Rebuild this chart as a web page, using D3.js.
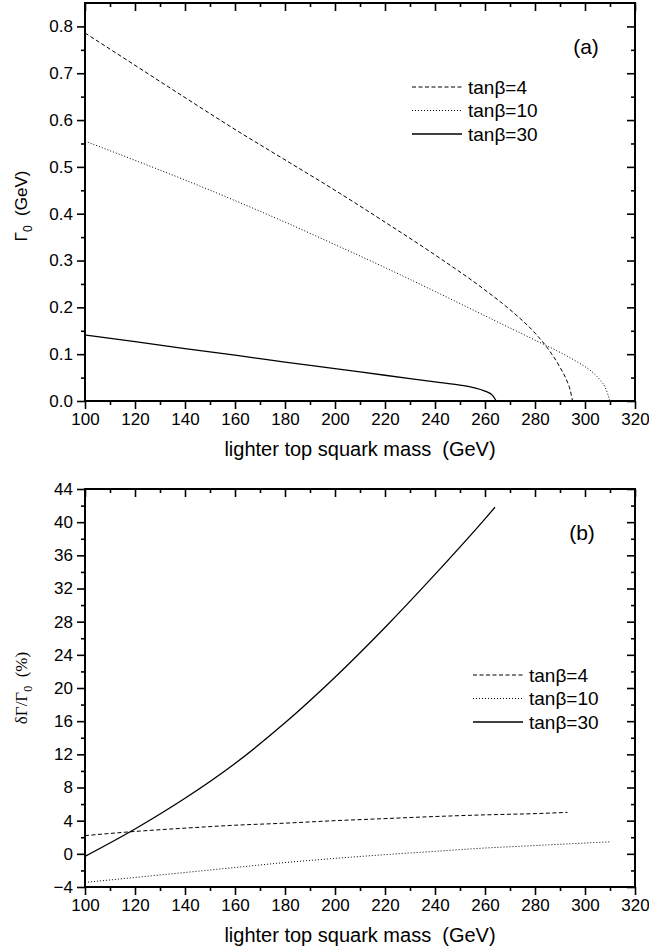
<!DOCTYPE html>
<html>
<head>
<meta charset="utf-8">
<script src="https://cdn.jsdelivr.net/npm/d3@7"></script>
<style>
  html, body { margin: 0; padding: 0; background: #fff; }
  svg { display: block; }
  text { font-family: "Liberation Sans", Arial, sans-serif; fill: #000; white-space: pre; }
  .axis text { font-size: 17px; }
  .axis path, .axis line { stroke: #000; }
</style>
</head>
<body>
<svg id="chart"></svg>
<script>
// ── DATA ─────────────────────────────────────────────────────────────
const massTicks = [100, 120, 140, 160, 180, 200, 220, 240, 260, 280, 300, 320];
const gammaTicks = [0.0, 0.1, 0.2, 0.3, 0.4, 0.5, 0.6, 0.7, 0.8];
const deltaTicks = [-4, 0, 4, 8, 12, 16, 20, 24, 28, 32, 36, 40, 44];
const seriesNames = ["tanβ=4", "tanβ=10", "tanβ=30"];

// (a) Gamma_0 (GeV)
const topMass4   = [100, 120, 140, 160, 180, 200, 220, 240, 260, 270, 280, 285, 290, 293, 294, 295];
const topGamma4  = [0.786, 0.717, 0.648, 0.580, 0.515, 0.450, 0.382, 0.312, 0.237, 0.195, 0.145, 0.113, 0.072, 0.040, 0.025, 0.0];
const topMass10  = [100, 120, 140, 160, 180, 200, 220, 240, 260, 280, 290, 298, 302, 306, 308, 310];
const topGamma10 = [0.555, 0.514, 0.472, 0.428, 0.382, 0.334, 0.285, 0.234, 0.182, 0.130, 0.104, 0.080, 0.066, 0.045, 0.030, 0.0];
const topMass30  = [100, 120, 140, 160, 180, 200, 220, 240, 250, 255, 260, 263, 264.5];
const topGamma30 = [0.141, 0.127, 0.112, 0.098, 0.083, 0.069, 0.055, 0.041, 0.034, 0.029, 0.021, 0.012, 0.0];

// (b) delta Gamma / Gamma_0 (%)
const botMass4   = [100, 120, 140, 160, 180, 200, 220, 240, 260, 280, 293];
const botDelta4  = [2.2, 2.7, 3.1, 3.45, 3.7, 4.0, 4.25, 4.5, 4.7, 4.85, 5.0];
const botMass10  = [100, 120, 140, 160, 180, 200, 220, 240, 260, 280, 300, 310];
const botDelta10 = [-3.45, -2.85, -2.25, -1.65, -1.05, -0.55, -0.1, 0.3, 0.7, 1.0, 1.3, 1.45];
const botMass30  = [100, 120, 140, 160, 180, 200, 220, 240, 260, 264];
const botDelta30 = [-0.3, 3.0, 6.7, 10.9, 15.8, 21.3, 27.3, 33.7, 40.4, 41.8];

// ── LAYOUT ───────────────────────────────────────────────────────────
const W = 649, H = 950;
const svg = d3.select("#chart").attr("width", W).attr("height", H);
svg.append("rect").attr("width", W).attr("height", H).attr("fill", "#fff");

const DASH = { "tanβ=4": "4,2.5", "tanβ=10": "1,2", "tanβ=30": null };
const WIDTH = { "tanβ=4": 1, "tanβ=10": 1, "tanβ=30": 1.3 };

const zip = (xs, ys) => xs.map((x, i) => ({ x, y: ys[i] }));

function minors(majors) {
  const out = [];
  for (let i = 0; i < majors.length - 1; i++) out.push((majors[i] + majors[i + 1]) / 2);
  return out;
}

function panel(cfg) {
  const x = d3.scaleLinear().domain([100, 320]).range([85, 635]);
  const y = d3.scaleLinear().domain(cfg.yDomain).range([cfg.bottom, cfg.top]);
  const g = svg.append("g");

  const yMin = minors(cfg.yTicks);
  const xMin = minors(massTicks);

  // left (outward) + right (inward)
  g.append("g").attr("class", "axis").attr("transform", "translate(85,0)")
    .call(d3.axisLeft(y).tickValues(cfg.yTicks).tickSize(8).tickPadding(4).tickFormat(cfg.fmt))
    .call(a => a.select(".domain").remove());
  g.append("g").attr("class", "axis").attr("transform", "translate(85,0)")
    .call(d3.axisLeft(y).tickValues(yMin).tickSize(4).tickFormat(""))
    .call(a => a.select(".domain").remove());
  g.append("g").attr("class", "axis").attr("transform", "translate(635,0)")
    .call(d3.axisRight(y).tickValues(cfg.yTicks).tickSize(-8).tickFormat(""))
    .call(a => a.select(".domain").remove());
  g.append("g").attr("class", "axis").attr("transform", "translate(635,0)")
    .call(d3.axisRight(y).tickValues(yMin).tickSize(-4).tickFormat(""))
    .call(a => a.select(".domain").remove());

  // bottom (outward) + top (inward)
  g.append("g").attr("class", "axis").attr("transform", `translate(0,${cfg.bottom})`)
    .call(d3.axisBottom(x).tickValues(massTicks).tickSize(8).tickPadding(4).tickFormat(d3.format("d")))
    .call(a => a.select(".domain").remove());
  g.append("g").attr("class", "axis").attr("transform", `translate(0,${cfg.bottom})`)
    .call(d3.axisBottom(x).tickValues(xMin).tickSize(4).tickFormat(""))
    .call(a => a.select(".domain").remove());
  g.append("g").attr("class", "axis").attr("transform", `translate(0,${cfg.top})`)
    .call(d3.axisTop(x).tickValues(massTicks).tickSize(-8).tickFormat(""))
    .call(a => a.select(".domain").remove());
  g.append("g").attr("class", "axis").attr("transform", `translate(0,${cfg.top})`)
    .call(d3.axisTop(x).tickValues(xMin).tickSize(-4).tickFormat(""))
    .call(a => a.select(".domain").remove());

  g.selectAll(".axis line").attr("stroke-width", 1.6);

  // frame
  g.append("rect")
    .attr("x", 85).attr("y", cfg.top)
    .attr("width", 550).attr("height", cfg.bottom - cfg.top)
    .attr("fill", "none").attr("stroke", "#000").attr("stroke-width", 2);

  // curves
  const line = d3.line().x(d => x(d.x)).y(d => y(d.y)).curve(d3.curveMonotoneX);
  cfg.series.forEach(s => {
    g.append("path")
      .datum(zip(s.xs, s.ys))
      .attr("d", line)
      .attr("fill", "none")
      .attr("stroke", "#000")
      .attr("stroke-width", WIDTH[s.name])
      .attr("stroke-dasharray", DASH[s.name]);
  });

  // legend
  seriesNames.forEach((name, i) => {
    const ly = cfg.legend.y + i * 23.5;
    g.append("line")
      .attr("x1", cfg.legend.x).attr("x2", cfg.legend.x + 50)
      .attr("y1", ly).attr("y2", ly)
      .attr("stroke", "#000").attr("stroke-width", WIDTH[name])
      .attr("stroke-dasharray", DASH[name]);
    g.append("text")
      .attr("x", cfg.legend.x + 56).attr("y", ly).attr("dy", "0.36em")
      .style("font-size", "19px")
      .text(name);
  });

  // panel tag
  g.append("text")
    .attr("x", cfg.tagX).attr("y", cfg.tagY).attr("dy", "0.36em")
    .attr("text-anchor", "middle").style("font-size", "21px")
    .text(cfg.tag);

  // x title
  g.append("text")
    .attr("x", 360).attr("y", cfg.bottom + 55)
    .attr("text-anchor", "middle").style("font-size", "20px")
    .text("lighter top squark mass  (GeV)");

  // y title
  const yt = g.append("text")
    .attr("transform", `translate(27,${cfg.yTitleY}) rotate(-90)`)
    .attr("text-anchor", "middle")
    .style("font-family", cfg.yFont)
    .style("font-size", "17px");
  yt.append("tspan").text(cfg.yMain);
  yt.append("tspan").attr("dy", 5).style("font-size", "12px").text("0");
  yt.append("tspan").attr("dy", -5).text("  " + cfg.yUnit);
}

panel({
  top: 3, bottom: 401, yDomain: [0, 0.85], yTicks: gammaTicks,
  fmt: d3.format(".1f"),
  series: [
    { name: "tanβ=4",  xs: topMass4,  ys: topGamma4 },
    { name: "tanβ=10", xs: topMass10, ys: topGamma10 },
    { name: "tanβ=30", xs: topMass30, ys: topGamma30 }
  ],
  legend: { x: 412, y: 87 },
  tag: "(a)", tagX: 586, tagY: 46, yTitleY: 206,
  yMain: "Γ", yUnit: "(GeV)", yFont: "'Liberation Sans', Arial, sans-serif"
});

panel({
  top: 489, bottom: 887, yDomain: [-4, 44], yTicks: deltaTicks,
  fmt: d3.format("d"),
  series: [
    { name: "tanβ=4",  xs: botMass4,  ys: botDelta4 },
    { name: "tanβ=10", xs: botMass10, ys: botDelta10 },
    { name: "tanβ=30", xs: botMass30, ys: botDelta30 }
  ],
  legend: { x: 473, y: 675 },
  tag: "(b)", tagX: 582, tagY: 532, yTitleY: 688,
  yMain: "δΓ/Γ", yUnit: "(%)", yFont: "'Liberation Serif', 'Times New Roman', serif"
});
</script>
</body>
</html>
